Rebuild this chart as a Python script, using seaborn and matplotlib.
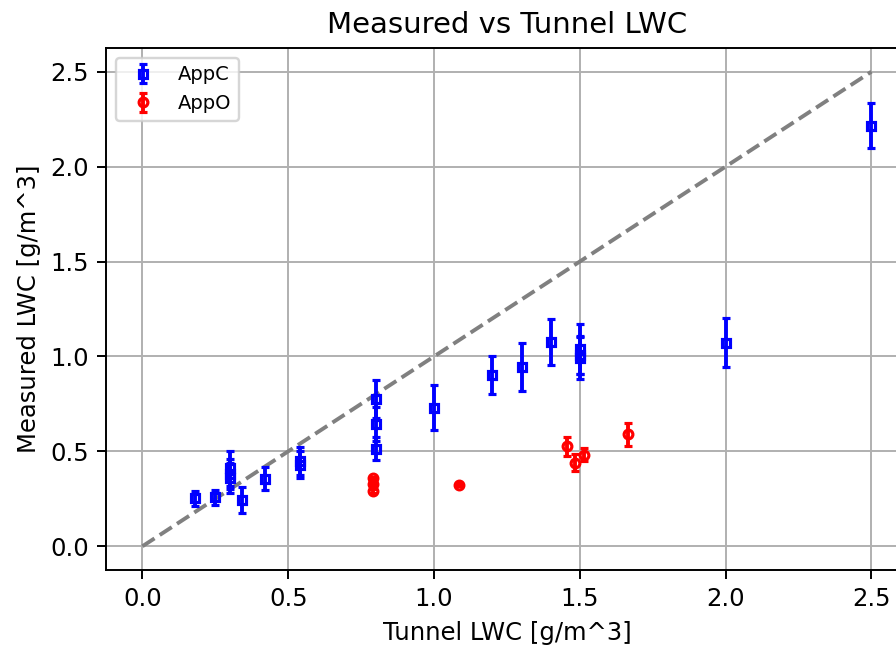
import numpy as np
import pandas as pd
import matplotlib
matplotlib.use("Agg")
import matplotlib.pyplot as plt
import seaborn as sns

# AppC measurements
appc_tunnel = [0.18, 0.25, 0.30, 0.30, 0.30, 0.34, 0.42, 0.54, 0.54, 0.80, 0.80, 0.80,
               1.00, 1.20, 1.30, 1.40, 1.50, 1.50, 1.50, 2.00, 2.50]
appc_measured = [0.253, 0.258, 0.41, 0.38, 0.36, 0.244, 0.356, 0.45, 0.43, 0.774, 0.642, 0.514,
                 0.73, 0.90, 0.944, 1.075, 1.04, 1.01, 0.99, 1.072, 2.216]
appc_err = [0.04, 0.04, 0.09, 0.08, 0.08, 0.07, 0.06, 0.075, 0.07, 0.10, 0.09, 0.06,
            0.12, 0.10, 0.125, 0.12, 0.13, 0.10, 0.11, 0.13, 0.12]

# AppO measurements
appo_tunnel = [0.79, 0.79, 0.79, 1.085, 1.455, 1.485, 1.515, 1.665]
appo_measured = [0.358, 0.326, 0.291, 0.323, 0.526, 0.44, 0.482, 0.589]
appo_err = [0.008, 0.008, 0.008, 0.008, 0.05, 0.045, 0.035, 0.06]

sns.set_theme(style="ticks", rc={
    "text.color": "black", "axes.labelcolor": "black",
    "xtick.color": "black", "ytick.color": "black",
    "xtick.major.size": 3.5, "ytick.major.size": 3.5,
    "xtick.major.width": 0.8, "ytick.major.width": 0.8,
    "axes.edgecolor": "black", "axes.linewidth": 0.8,
})
plt.rcParams['font.family'] = ['DejaVu Sans']

fig = plt.figure(figsize=(5.12, 3.686), dpi=175)
ax = fig.add_axes([0.1183, 0.1163, 0.895, 0.8093])

ax.plot([0, 2.5], [0, 2.5], linestyle="--", color="gray", linewidth=1.6, zorder=1)

ax.errorbar(appc_tunnel, appc_measured, yerr=appc_err, fmt="s", color="blue",
            markersize=3.6, markerfacecolor="none", markeredgewidth=1.3,
            elinewidth=1.6, capsize=1.6, capthick=1.3, label="AppC", zorder=3)
ax.errorbar(appo_tunnel, appo_measured, yerr=appo_err, fmt="o", color="red",
            markersize=3.6, markerfacecolor="none", markeredgewidth=1.3,
            elinewidth=1.6, capsize=1.6, capthick=1.3, label="AppO", zorder=3)

ax.set_xlim(-0.125, 2.625)
ax.set_ylim(-0.125, 2.625)
ax.set_xticks([0, 0.5, 1.0, 1.5, 2.0, 2.5])
ax.set_yticks([0, 0.5, 1.0, 1.5, 2.0, 2.5])
ax.grid(True, color="#b0b0b0", linewidth=0.8)
ax.set_axisbelow(True)
ax.tick_params(labelsize=10)

ax.set_xlabel("Tunnel LWC [g/m^3]", fontsize=10)
ax.set_ylabel("Measured LWC [g/m^3]", fontsize=10)
ax.set_title("Measured vs Tunnel LWC", fontsize=12)
ax.legend(loc="upper left", fontsize=8, frameon=True)

fig.savefig("out.png", dpi=175)
